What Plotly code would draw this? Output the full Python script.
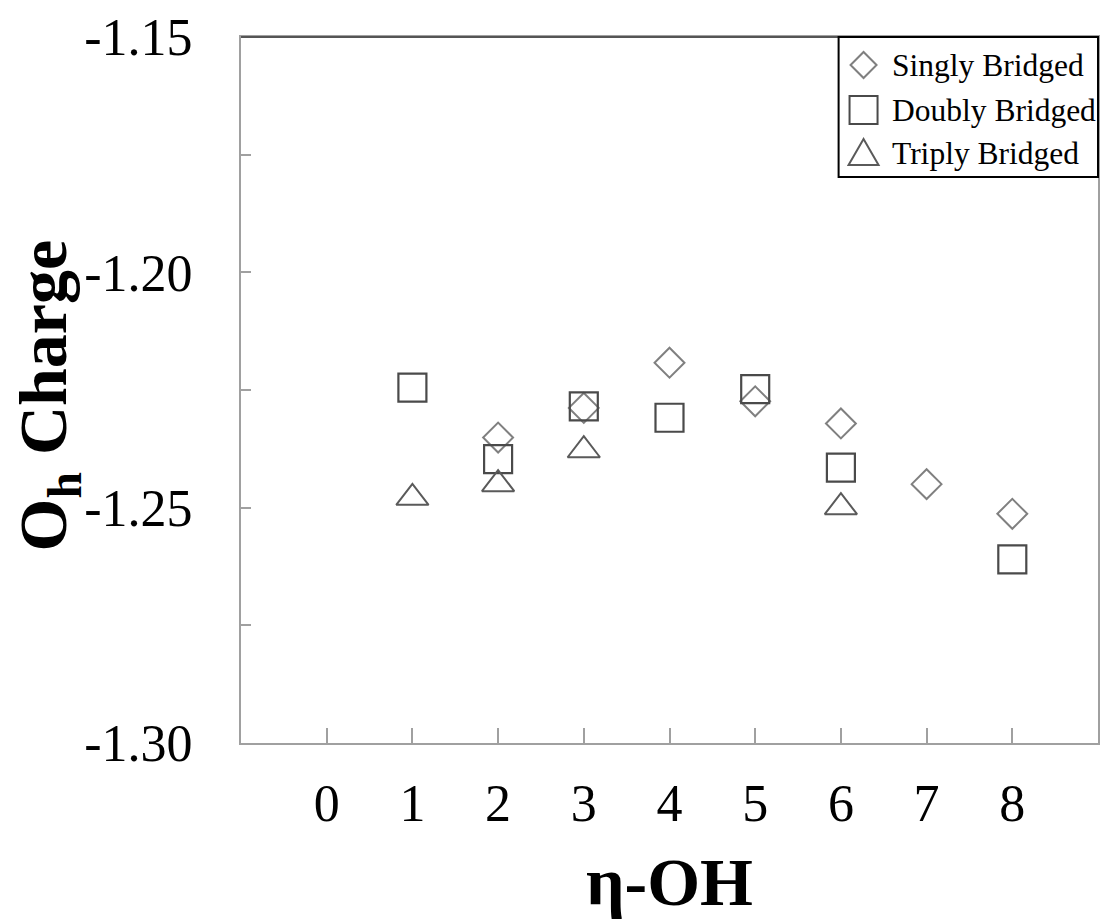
import plotly.graph_objects as go

# Data (eta-OH vs O_h charge)
singly_x = [2, 3, 4, 5, 6, 7, 8]
singly_y = [-1.2351, -1.2288, -1.2192, -1.2274, -1.2321, -1.2450, -1.2513]

doubly_x = [1, 2, 3, 4, 5, 6, 8]
doubly_y = [-1.2245, -1.2397, -1.2285, -1.2309, -1.2248, -1.2415, -1.2610]

triply_x = [1, 2, 3, 6]
triply_y = [-1.2479, -1.2450, -1.2378, -1.2499]

series_names = ["Singly Bridged", "Doubly Bridged", "Triply Bridged"]

x_ticks = [0, 1, 2, 3, 4, 5, 6, 7, 8]
y_major = [-1.30, -1.25, -1.20, -1.15]
y_major_text = ["-1.30", "-1.25", "-1.20", "-1.15"]
y_minor = [-1.275, -1.225, -1.175]

FONT = "Liberation Serif, Times New Roman, serif"
AXIS_COL = "#a0a0a0"
COL_D, COL_S, COL_T = "#808080", "#4a4a4a", "#5a5a5a"

fig = go.Figure()
fig.add_trace(go.Scatter(
    x=singly_x, y=singly_y, mode="markers", name=series_names[0],
    marker=dict(symbol="diamond-open", size=23, color=COL_D,
                line=dict(width=2, color=COL_D))))
fig.add_trace(go.Scatter(
    x=doubly_x, y=doubly_y, mode="markers", name=series_names[1],
    marker=dict(symbol="square-open", size=28, color=COL_S,
                line=dict(width=2.2, color=COL_S))))
fig.add_trace(go.Scatter(
    x=triply_x, y=triply_y, mode="markers", name=series_names[2],
    marker=dict(symbol="triangle-up-open", size=28, color=COL_T,
                line=dict(width=2, color=COL_T))))

fig.update_layout(
    width=1102, height=920,
    margin=dict(l=241, r=2, t=37, b=177),
    paper_bgcolor="white", plot_bgcolor="white",
    font=dict(family=FONT, color="black"),
    showlegend=False,
    xaxis=dict(
        range=[-1, 9], tickvals=x_ticks, ticktext=[str(v) for v in x_ticks],
        ticks="inside", ticklen=15, tickwidth=2, tickcolor=AXIS_COL,
        showline=True, linecolor=AXIS_COL, linewidth=2, mirror=True,
        showgrid=False, zeroline=False,
        tickfont=dict(family=FONT, size=52, color="black"),
        ticklabelstandoff=14,
        title=dict(text="<b>η-OH</b>", font=dict(family=FONT, size=68, color="black"),
                   standoff=33),
    ),
    yaxis=dict(
        range=[-1.30, -1.15], tickvals=y_major, ticktext=y_major_text,
        ticks="inside", ticklen=10, tickwidth=2, tickcolor=AXIS_COL,
        minor=dict(tickvals=y_minor, ticks="inside", ticklen=10, tickwidth=2,
                   tickcolor=AXIS_COL, showgrid=False),
        showline=True, linecolor=AXIS_COL, linewidth=2, mirror=True,
        showgrid=False, zeroline=False,
        tickfont=dict(family=FONT, size=52, color="black"),
        ticklabelstandoff=36,
    ),
)

# y-axis title as rotated annotation (precise placement)
fig.add_annotation(
    text="<b>O<sub>h</sub> Charge</b>", textangle=-90,
    xref="paper", yref="paper", x=(48 - 241) / 859, y=(743 - 395) / 706,
    xanchor="center", yanchor="middle", showarrow=False,
    font=dict(family=FONT, size=68, color="black"))

# darker top frame line as in reference
fig.add_shape(type="line", xref="paper", yref="paper", x0=0, x1=1, y0=1, y1=1,
              line=dict(color="#555555", width=2))

# custom legend (box, symbols, labels)
def px_x(p):
    return (p - 241) / 859

def px_y(p):
    return (743 - p) / 706

fig.add_shape(type="rect", xref="paper", yref="paper",
              x0=px_x(840), x1=px_x(1100), y0=px_y(177), y1=px_y(37),
              line=dict(color="black", width=2), fillcolor="white", layer="above")

legend_rows = [65, 110, 153]
legend_paths = [
    "M 13 0 L 0 13 L -13 0 L 0 -13 Z",
    "M -14 -14 L 14 -14 L 14 14 L -14 14 Z",
    "M -15 -12 L 15 -12 L 0 14 Z",
]
legend_cols = [COL_D, COL_S, COL_T]
for name, row, path, col in zip(series_names, legend_rows, legend_paths, legend_cols):
    fig.add_shape(type="path", xref="paper", yref="paper",
                  xsizemode="pixel", ysizemode="pixel",
                  xanchor=px_x(865), yanchor=px_y(row), path=path,
                  line=dict(color=col, width=2), layer="above")
    fig.add_annotation(text=name, xref="paper", yref="paper",
                       x=px_x(892), y=px_y(row), xanchor="left", yanchor="middle",
                       showarrow=False, font=dict(family=FONT, size=31.5, color="black"))

fig.write_html("out.html", config={"displayModeBar": False},
               post_script="document.body.style.margin='0';")
